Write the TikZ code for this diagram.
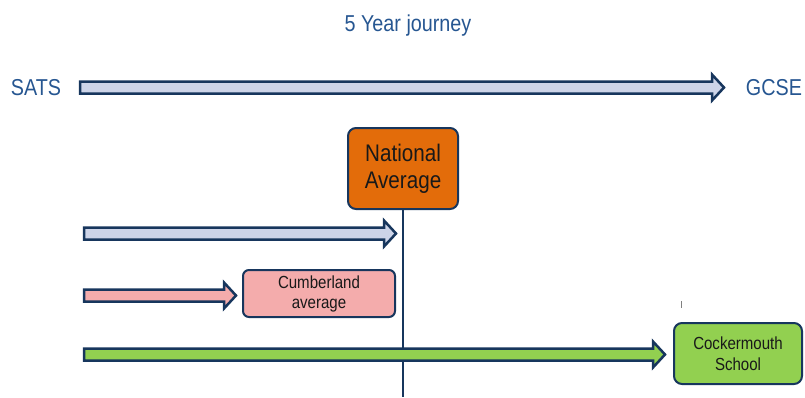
\documentclass[tikz,border=0pt]{standalone}
\usepackage{fontspec}
\setmainfont[FakeStretch=0.86]{Liberation Sans}
\usetikzlibrary{calc}
\definecolor{navy}{RGB}{23,54,93}
\definecolor{titleblue}{RGB}{38,86,145}
\definecolor{shaftblue}{RGB}{205,212,232}
\definecolor{natorange}{RGB}{227,108,10}
\definecolor{cumbpink}{RGB}{244,172,172}
\definecolor{cockgreen}{RGB}{146,208,80}
\definecolor{boxtext}{RGB}{25,25,25}
\newcommand{\blockarr}[3]{%
  \draw[#1] let \p1=(#2), \p2=(#3) in
    (\x1,\y1+6pt) -- (\x2-12pt,\y1+6pt) -- (\x2-12pt,\y1+13pt) -- (\x2,\y1)
    -- (\x2-12pt,\y1-13pt) -- (\x2-12pt,\y1-6pt) -- (\x1,\y1-6pt) -- cycle;}
\tikzset{
  label text/.style={text=titleblue, font=\fontsize{23}{27}\selectfont},
  rbox/.style={draw=navy, line width=2pt, rounded corners=8pt, align=center,
     text=boxtext, inner sep=0pt},
  barrow/.style={draw=navy, line width=2.5pt, line join=miter},
}
\begin{document}
\begin{tikzpicture}[x=1pt,y=-1pt]
\useasboundingbox (0,0) rectangle (805,397);
\node[label text] (title) at (408,26) {5 Year journey};
\node[label text] (sats) at (36,88) {SATS};
\node[label text] (gcse) at (774,88) {GCSE};
\coordinate (satsstart) at (80,87.5);
\coordinate (gcseend) at (724,87.5);
\blockarr{barrow, fill=shaftblue}{satsstart}{gcseend}

\node[rbox, fill=natorange, minimum width=110pt, minimum height=81pt,
  font=\fontsize{24}{27}\selectfont] (natl) at (403,168.5) {National\\Average};
\coordinate (lineend) at (403,397);
\draw[navy, line width=2.5pt] (natl.south) -- (lineend);

\node[rbox, fill=cumbpink, rounded corners=6pt, minimum width=152pt, minimum height=47pt,
  font=\fontsize{17.5}{20}\selectfont] (cumb) at (319,293.5) {Cumberland\\average};
\node[rbox, fill=cockgreen, minimum width=128pt, minimum height=61pt,
  font=\fontsize{17.5}{21}\selectfont] (cock) at (738,353.5) {Cockermouth\\School};

\coordinate (a1start) at (84,233.5);
\coordinate (a1end) at (396,233.5);
\blockarr{barrow, fill=shaftblue}{a1start}{a1end}

\coordinate (a2start) at (84,295.5);
\blockarr{barrow, fill=cumbpink}{a2start}{$(cumb.west)+(-6,0)$}

\coordinate (a3start) at (84,354.5);
\blockarr{barrow, fill=cockgreen}{a3start}{$(cock.west)+(-8,0)$}

\coordinate (ticktop) at (681,301);
\coordinate (tickbot) at (681,308);
\draw[gray, line width=1pt] (ticktop) -- (tickbot);
\end{tikzpicture}
\end{document}
